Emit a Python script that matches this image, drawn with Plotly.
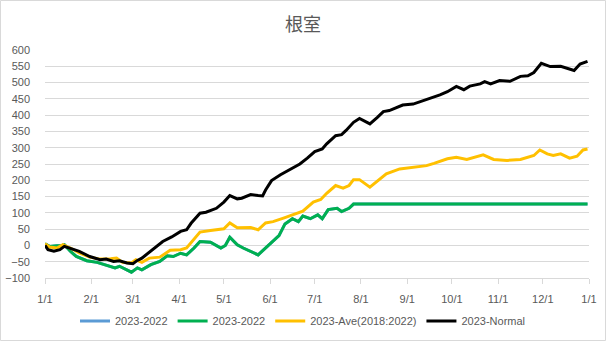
import pandas as pd
import plotly.graph_objects as go

# ---- data (day offset from 2023-01-01, value) ----
green_days = [0, 3, 8, 11, 13, 17, 21, 28, 35, 40, 44, 47, 50, 55, 58, 62, 65, 71, 77, 82, 86, 91, 95, 100,
              104, 111, 118, 121, 124, 129, 133, 143, 151, 157, 161, 166, 170, 173, 178, 183, 186, 190, 196,
              199, 204, 207, 364]
green_vals = [5, -3, -1, -1, 2, -18, -34, -47, -52, -59, -64, -69, -64, -75, -82, -69, -75, -59, -49, -32, -34,
              -24, -29, -8, 12, 10, -8, 0, 25, 2, -8, -29, 5, 30, 66, 82, 73, 90, 82, 94, 82, 110, 114, 104,
              114, 127, 127]

yellow_days = [0, 3, 8, 12, 17, 23, 30, 37, 44, 48, 52, 58, 61, 65, 70, 77, 84, 91, 95, 99, 104, 111, 120,
               124, 129, 138, 143, 148, 153, 160, 167, 173, 180, 185, 189, 195, 200, 204, 207, 211, 218, 223,
               229, 238, 247, 256, 261, 270, 276, 283, 294, 301, 310, 319, 328, 332, 337, 341, 346, 352, 357,
               361, 364]
yellow_vals = [5, -5, -8, 2, -8, -23, -36, -42, -41, -39, -52, -54, -44, -52, -39, -36, -15, -13, -8, 15, 41,
               46, 51, 69, 54, 55, 48, 69, 73, 84, 95, 105, 133, 141, 160, 184, 176, 184, 202, 202, 179, 199,
               220, 235, 240, 245, 252, 266, 271, 264, 278, 264, 261, 264, 276, 293, 281, 276, 281, 268, 274,
               293, 296]

black_days = [0, 2, 6, 10, 13, 18, 23, 30, 37, 41, 46, 50, 55, 59, 62, 65, 69, 75, 79, 85, 91, 95, 98, 104,
              108, 115, 120, 124, 129, 132, 138, 143, 146, 148, 152, 158, 164, 171, 176, 181, 186, 189, 195,
              199, 202, 207, 211, 215, 218, 223, 227, 231, 236, 240, 247, 252, 256, 261, 265, 270, 276, 281,
              285, 292, 295, 299, 305, 312, 319, 324, 328, 333, 339, 346, 350, 355, 359, 364]
black_vals = [0, -13, -18, -13, -3, -11, -18, -34, -44, -42, -49, -47, -54, -56, -46, -39, -24, -3, 12, 26, 43,
              48, 68, 99, 102, 114, 133, 153, 143, 145, 156, 153, 152, 170, 199, 217, 233, 250, 268, 288, 296,
              312, 337, 340, 353, 378, 390, 380, 373, 393, 411, 414, 424, 431, 434, 442, 448, 455, 462, 472,
              488, 478, 489, 496, 503, 496, 506, 504, 519, 521, 531, 559, 549, 550, 544, 537, 557, 565]

tick_dates = ["2023-01-01", "2023-02-01", "2023-03-01", "2023-04-01", "2023-05-01", "2023-06-01",
              "2023-07-01", "2023-08-01", "2023-09-01", "2023-10-01", "2023-11-01", "2023-12-01", "2024-01-01"]
tick_text = ["1/1", "2/1", "3/1", "4/1", "5/1", "6/1", "7/1", "8/1", "9/1", "10/1", "11/1", "12/1", "1/1"]

names = ["2023-2022", "2023-2022", "2023-Ave(2018:2022)", "2023-Normal"]
colors = ["#5B9BD5", "#00B050", "#FFC000", "#000000"]

base = pd.Timestamp("2023-01-01")


def to_dates(days):
    return [base + pd.Timedelta(days=d) for d in days]


series = [
    (green_days, green_vals),   # blue series hidden under green
    (green_days, green_vals),
    (yellow_days, yellow_vals),
    (black_days, black_vals),
]

fig = go.Figure()
for (d, v), n, c in zip(series, names, colors):
    fig.add_trace(go.Scatter(x=to_dates(d), y=v, mode="lines", name=n,
                             line=dict(color=c, width=3)))

fig.update_layout(
    width=606, height=341,
    margin=dict(l=45, r=17, t=50, b=63),
    paper_bgcolor="white", plot_bgcolor="white",
    font=dict(family="Liberation Sans, Arial, sans-serif", size=11, color="#595959"),
    title=dict(text="根室", x=0.5, xanchor="center", y=0.927, yanchor="middle",
               font=dict(family="Noto Sans CJK JP", size=18, color="#595959")),
    legend=dict(orientation="h", x=0.5, xref="container", xanchor="center",
                y=1 - 321 / 341, yref="container", yanchor="middle",
                font=dict(size=11, color="#595959"), itemwidth=30),
    showlegend=True,
)
fig.update_xaxes(
    range=["2023-01-01", "2024-01-01"],
    tickvals=tick_dates, ticktext=tick_text,
    showgrid=False, showline=True, linecolor="#D9D9D9", linewidth=1,
    ticks="outside", ticklen=5, tickcolor="#D9D9D9", ticklabelstandoff=6,
    zeroline=False, automargin=False,
)
fig.update_yaxes(
    range=[-100, 600], dtick=50, tick0=0,
    showgrid=True, gridcolor="#D9D9D9", gridwidth=1,
    zeroline=False, showline=False, ticks="", ticklabelstandoff=14,
    automargin=False,
)
fig.add_shape(type="rect", xref="paper", yref="paper",
              x0=(0.5 - 45) / 544, x1=(605.5 - 45) / 544,
              y0=(278 - 340.5) / 228, y1=(278 - 0.5) / 228,
              line=dict(color="#D9D9D9", width=1), layer="below")

fig.write_html("out.html")
